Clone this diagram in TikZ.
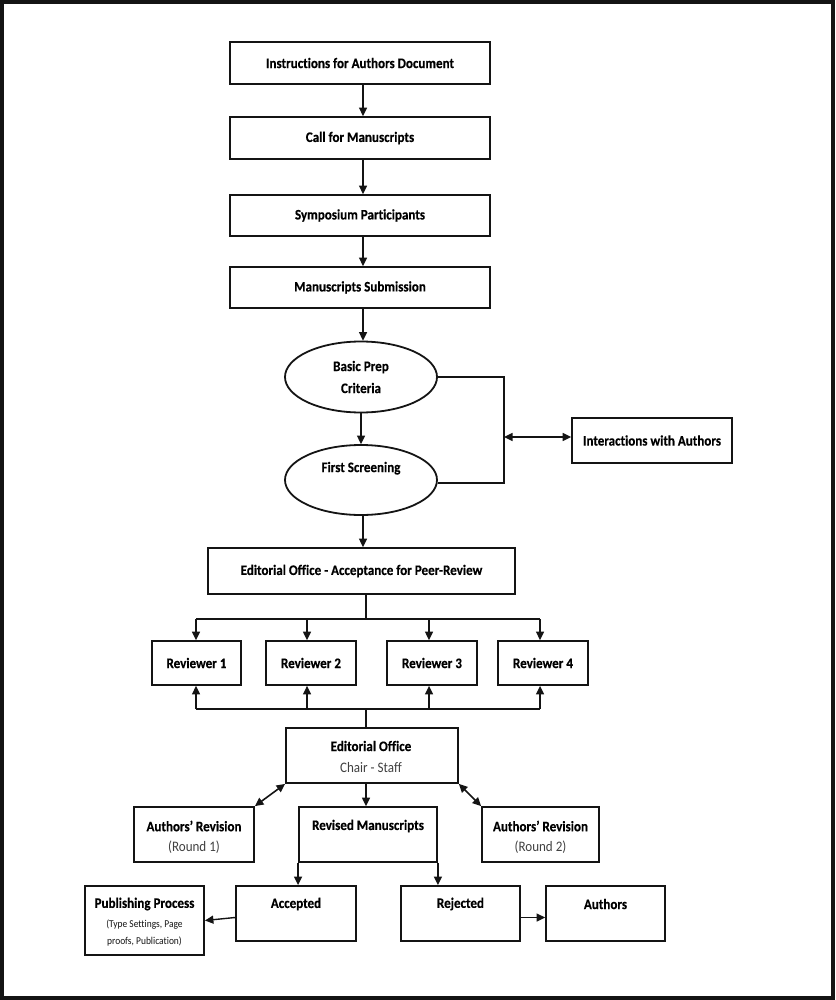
\documentclass[tikz,border=0pt]{standalone}
\usepackage{fontspec}
\setmainfont{Carlito}[FakeStretch=0.9, Ligatures={NoCommon}, BoldFeatures={FakeBold=0.4}]
\usetikzlibrary{arrows.meta,shapes.geometric}
\definecolor{subgray}{RGB}{64,64,64}
\definecolor{ink}{RGB}{20,20,20}
\tikzset{
  box/.style={draw=ink, line width=1.8pt, inner sep=0pt, align=center,
    font=\bfseries\fontsize{14.5}{22}\selectfont},
  oval/.style={ellipse, draw=ink, line width=1.8pt, inner sep=0pt, align=center,
    font=\bfseries\fontsize{14.5}{22}\selectfont},
  lbl/.style={inner sep=0pt, align=center, font=\bfseries\fontsize{14.5}{22}\selectfont},
  sub/.style={inner sep=0pt, align=center, text=subgray, font=\fontsize{14.5}{22}\selectfont},
  tiny/.style={inner sep=0pt, align=center, text=ink, font=\fontsize{10.5}{17}\selectfont},
  arr/.style={draw=ink, line width=1.4pt, -{Triangle[length=8.5pt,width=8pt]}},
  darr/.style={draw=ink, line width=1.6pt, {Triangle[length=8.5pt,width=8pt]}-{Triangle[length=8.5pt,width=8pt]}},
  ln/.style={draw=ink, line width=1.4pt},
}
\begin{document}
\begin{tikzpicture}[x=1pt,y=-1pt]
\useasboundingbox (0,0) rectangle (835,1000);
\draw[ink, line width=4pt] (2,2) rectangle (833,998);

% top column
\node[box, minimum width=260, minimum height=42] (b1) at (360,63) {Instructions for Authors Document};
\node[box, minimum width=260, minimum height=42] (b2) at (360,138) {Call for Manuscripts};
\node[box, minimum width=260, minimum height=41] (b3) at (360,215.5) {Symposium Participants};
\node[box, minimum width=260, minimum height=41] (b4) at (360,287.5) {Manuscripts Submission};
\coordinate (cx) at (363,0);
\draw[arr] (b1.south -| cx) -- (b2.north -| cx);
\draw[arr] (b2.south -| cx) -- (b3.north -| cx);
\draw[arr] (b3.south -| cx) -- (b4.north -| cx);

% ellipses
\node[oval, minimum width=152, minimum height=71] (e1) at (361,377) {Basic Prep\\Criteria};
\node[oval, minimum width=152, minimum height=70] (e2) at (361,480) {First Screening\\[4pt]};
\draw[arr] (b4.south -| cx) -- (e1.north -| cx);
\draw[arr] (e1.south) -- (e2.north);

% interactions
\node[box, minimum width=160, minimum height=45] (ia) at (652,440.5) {Interactions with Authors};
\coordinate (jt) at (504,377);
\coordinate (jb) at (504,483);
\coordinate (jm) at (504,437);
\draw[ln] (e1.east) -- (jt) -- (jb) -- (jb -| e2.east);
\draw[darr] (jm) -- (jm -| ia.west);

% editorial office acceptance
\node[box, minimum width=307, minimum height=46] (eo) at (361.5,571) {Editorial Office - Acceptance for Peer-Review};
\draw[arr] (e2.south -| cx) -- (eo.north -| cx);

% reviewers
\node[box, minimum width=89, minimum height=44] (r1) at (196.5,663) {Reviewer 1};
\node[box, minimum width=90, minimum height=44] (r2) at (311,663) {Reviewer 2};
\node[box, minimum width=90, minimum height=44] (r3) at (432,663) {Reviewer 3};
\node[box, minimum width=90, minimum height=44] (r4) at (543,663) {Reviewer 4};

\coordinate (tm) at (366,619);
\coordinate (t1) at (196,619);
\coordinate (t2) at (307,619);
\coordinate (t3) at (429,619);
\coordinate (t4) at (540,619);
\draw[ln] (eo.south -| tm) -- (tm);
\draw[ln] (t1) -- (t4);
\draw[arr] (t1) -- (t1 |- r1.north);
\draw[arr] (t2) -- (t2 |- r2.north);
\draw[arr] (t3) -- (t3 |- r3.north);
\draw[arr] (t4) -- (t4 |- r4.north);

\coordinate (um) at (366,709);
\coordinate (u1) at (196,709);
\coordinate (u2) at (307,709);
\coordinate (u3) at (429,709);
\coordinate (u4) at (540,709);
\draw[ln] (u1) -- (u4);
\draw[arr] (u1) -- (u1 |- r1.south);
\draw[arr] (u2) -- (u2 |- r2.south);
\draw[arr] (u3) -- (u3 |- r3.south);
\draw[arr] (u4) -- (u4 |- r4.south);

% editorial office chair
\node[box, minimum width=172, minimum height=55] (eo2) at (372,755.5) {};
\node[lbl] (eo2t) at (371,746) {Editorial Office};
\node[sub] (eo2s) at (371,768) {Chair - Staff};
\draw[ln] (um) -- (um |- eo2.north);

% second row
\node[box, minimum width=120, minimum height=55] (ar1) at (194,834.5) {};
\node[lbl] (ar1t) at (194,826) {Authors’ Revision};
\node[sub] (ar1s) at (194,847) {(Round 1)};
\node[box, minimum width=138, minimum height=55] (rm) at (368,834.5) {};
\node[lbl] (rmt) at (368,826) {Revised Manuscripts};
\node[box, minimum width=117, minimum height=55] (ar2) at (540.5,834.5) {};
\node[lbl] (ar2t) at (540.5,826) {Authors’ Revision};
\node[sub] (ar2s) at (540.5,847) {(Round 2)};

\draw[arr] (um |- eo2.south) -- (um |- rm.north);
\draw[darr] (eo2.south west) -- (ar1.north east);
\draw[darr] (eo2.south east) -- (ar2.north west);

% bottom row
\node[box, minimum width=119, minimum height=69] (pp) at (144.5,920.5) {};
\node[lbl] (ppt) at (144.5,904) {Publishing Process};
\node[tiny] (pps) at (144.5,932.5) {(Type Settings, Page\\proofs, Publication)};
\node[box, minimum width=120, minimum height=55] (acc) at (296,913.5) {};
\node[lbl] (acct) at (296,904) {Accepted};
\node[box, minimum width=119, minimum height=55] (rej) at (460.5,913.5) {};
\node[lbl] (rejt) at (460.5,904) {Rejected};
\node[box, minimum width=119, minimum height=55] (au) at (605.5,913.5) {};
\node[lbl] (aut) at (605.5,904) {Authors};

\draw[arr] (rm.south west) -- (rm.south west |- acc.north);
\draw[arr] (rm.south east) -- (rm.south east |- rej.north);
\draw[arr] ([yshift=-4pt]acc.west) -- (pp.east);
\draw[arr] ([yshift=-4pt]rej.east) -- ([yshift=-4pt]au.west);
\end{tikzpicture}
\end{document}
